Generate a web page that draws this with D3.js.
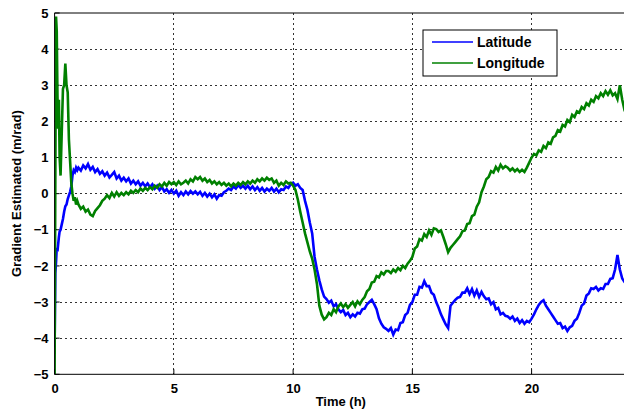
<!DOCTYPE html>
<html><head><meta charset="utf-8">
<script src="https://cdn.jsdelivr.net/npm/d3@7"></script>
<style>body{margin:0;background:#fff}svg{display:block}text{font-family:"Liberation Sans",Arial,sans-serif;font-weight:bold}</style>
</head><body><svg id="c" width="624" height="412"></svg>
<script>
// ---- data ----
const xTicks = [0, 5, 10, 15, 20];
const yTicks = [-5, -4, -3, -2, -1, 0, 1, 2, 3, 4, 5];
const seriesNames = ["Latitude", "Longitude"];
// early samples (t < 1 h), finer time resolution
const earlyTime = [0, 0.03, 0.06, 0.09, 0.12, 0.15, 0.18, 0.21, 0.25, 0.3, 0.35, 0.4, 0.45, 0.5, 0.55, 0.6, 0.65, 0.7, 0.75, 0.8, 0.85, 0.9, 0.95];
const latEarly = [-4.25, -2.2, -1.9, -1.5, -1.6, -1.4, -1.2, -1.05, -1.0, -0.85, -0.7, -0.5, -0.35, -0.3, -0.15, -0.05, 0.05, 0.2, 0.5, 0.65, 0.6, 0.72, 0.65];
const lonEarly = [-5, 0.3, 4.9, 4.5, 2.7, 1.8, 2.6, 1.0, 0.5, 1.7, 2.9, 3.0, 3.6, 3.0, 2.8, 1.5, 0.9, 0.3, 0.0, -0.2, -0.1, -0.3, -0.2];
// samples every 0.1 h from 1.0 h to 24.0 h
const mainTime = d3.range(10, 241).map(i => i / 10);
const latMain = [
 0.72,0.64,0.78,0.70,0.82,0.66,0.74,0.60,0.68,0.55,
 0.62,0.50,0.58,0.45,0.52,0.60,0.42,0.50,0.36,0.44,
 0.34,0.42,0.28,0.36,0.26,0.34,0.22,0.30,0.20,0.28,
 0.18,0.26,0.14,0.22,0.10,0.18,0.06,0.12,0.02,0.10,
 0.00,0.08,-0.06,0.04,-0.04,0.06,-0.02,0.07,0.00,0.06,
 -0.02,0.05,-0.06,0.02,-0.08,0.00,-0.10,-0.02,-0.14,-0.04,
 -0.06,0.04,0.08,0.14,0.10,0.20,0.14,0.24,0.16,0.22,
 0.14,0.22,0.12,0.20,0.10,0.18,0.08,0.16,0.06,0.14,
 0.08,0.16,0.06,0.14,0.04,0.12,0.10,0.20,0.16,0.26,
 0.30,0.22,0.26,0.16,0.10,-0.20,-0.45,-0.80,-1.10,-1.75,
 -2.10,-2.40,-2.65,-2.85,-2.92,-3.02,-2.96,-3.12,-3.06,-3.20,
 -3.28,-3.22,-3.36,-3.30,-3.42,-3.34,-3.40,-3.30,-3.32,-3.20,
 -3.18,-3.06,-3.00,-2.94,-3.06,-3.20,-3.45,-3.60,-3.70,-3.74,
 -3.80,-3.72,-3.90,-3.76,-3.78,-3.58,-3.56,-3.36,-3.30,-3.08,
 -3.00,-2.80,-2.80,-2.58,-2.60,-2.42,-2.56,-2.56,-2.74,-2.80,
 -3.00,-3.16,-3.34,-3.48,-3.62,-3.72,-3.10,-3.02,-2.94,-2.88,
 -2.86,-2.74,-2.74,-2.62,-2.78,-2.64,-2.82,-2.68,-2.86,-2.72,
 -2.84,-2.92,-2.90,-3.06,-3.00,-3.20,-3.16,-3.34,-3.30,-3.38,
 -3.40,-3.46,-3.40,-3.52,-3.46,-3.58,-3.50,-3.60,-3.52,-3.56,
 -3.46,-3.34,-3.20,-3.08,-3.00,-2.95,-3.10,-3.20,-3.30,-3.40,
 -3.50,-3.60,-3.58,-3.72,-3.68,-3.80,-3.70,-3.66,-3.52,-3.46,
 -3.30,-3.10,-3.04,-2.82,-2.76,-2.62,-2.64,-2.58,-2.68,-2.62,
 -2.64,-2.50,-2.50,-2.36,-2.34,-2.10,-1.70,-2.10,-2.35,-2.45,
 -2.50];
const lonMain = [
 -0.30,-0.42,-0.36,-0.50,-0.44,-0.58,-0.62,-0.48,-0.40,-0.32,
 -0.20,-0.14,-0.04,-0.12,0.02,-0.08,0.04,-0.06,0.02,-0.04,
 0.04,-0.02,0.08,0.02,0.10,0.04,0.14,0.08,0.16,0.10,
 0.18,0.12,0.22,0.16,0.26,0.20,0.30,0.22,0.32,0.26,
 0.32,0.24,0.34,0.26,0.30,0.36,0.28,0.40,0.34,0.46,
 0.40,0.46,0.36,0.42,0.32,0.38,0.28,0.34,0.26,0.32,
 0.24,0.30,0.22,0.28,0.20,0.28,0.22,0.30,0.24,0.32,
 0.26,0.34,0.28,0.36,0.30,0.40,0.34,0.42,0.36,0.44,
 0.38,0.42,0.30,0.36,0.22,0.30,0.24,0.34,0.28,0.30,
 0.22,0.10,-0.17,-0.50,-0.80,-1.10,-1.35,-1.60,-1.80,-2.10,
 -2.50,-3.10,-3.35,-3.48,-3.42,-3.30,-3.36,-3.20,-3.28,-3.12,
 -3.04,-3.14,-3.06,-3.16,-3.08,-3.00,-3.12,-2.98,-3.06,-2.94,
 -2.86,-2.70,-2.64,-2.46,-2.44,-2.28,-2.32,-2.18,-2.24,-2.14,
 -2.14,-2.20,-2.10,-2.16,-2.06,-2.12,-2.00,-2.06,-1.94,-1.86,
 -1.75,-1.52,-1.46,-1.26,-1.30,-1.12,-1.20,-1.02,-1.14,-0.96,
 -0.98,-1.06,-1.02,-1.20,-1.40,-1.62,-1.50,-1.42,-1.34,-1.26,
 -1.18,-1.04,-1.02,-0.84,-0.82,-0.62,-0.58,-0.36,-0.24,0.04,
 0.20,0.40,0.46,0.62,0.58,0.74,0.64,0.80,0.70,0.76,
 0.72,0.64,0.70,0.62,0.68,0.60,0.66,0.60,0.72,0.86,
 1.00,1.10,1.06,1.20,1.16,1.32,1.26,1.42,1.38,1.56,
 1.60,1.76,1.72,1.90,1.86,2.04,1.98,2.18,2.12,2.28,
 2.24,2.40,2.34,2.50,2.44,2.60,2.54,2.70,2.64,2.78,
 2.70,2.84,2.74,2.86,2.72,2.78,2.62,3.00,2.60,2.30,
 2.20];

// ---- chart ----
const svg = d3.select("#c");
const m = {left: 54.6, top: 13, right: 627, bottom: 374.3};
const x = d3.scaleLinear().domain([0, 24]).range([m.left, m.right]);
const y = d3.scaleLinear().domain([-5, 5]).range([m.bottom, m.top]);

// grid
const g = svg.append("g");
g.selectAll(".gy").data(yTicks.filter(v => v > -5 && v < 5)).enter().append("line")
  .attr("x1", m.left).attr("x2", 624).attr("y1", d => y(d)).attr("y2", d => y(d))
  .attr("stroke", "#333").attr("stroke-width", 1).attr("stroke-dasharray", "2,3").attr("shape-rendering","crispEdges");
g.selectAll(".gx").data(xTicks.filter(v => v > 0)).enter().append("line")
  .attr("x1", d => x(d)).attr("x2", d => x(d)).attr("y1", m.top).attr("y2", m.bottom)
  .attr("stroke", "#333").attr("stroke-width", 1).attr("stroke-dasharray", "2,3").attr("shape-rendering","crispEdges");

// axes
const xAxis = d3.axisBottom(x).tickValues(xTicks).tickSize(0).tickPadding(6);
const yAxis = d3.axisLeft(y).tickValues(yTicks).tickSize(0).tickPadding(6);
const gx = svg.append("g").attr("transform", `translate(0,${m.bottom})`).call(xAxis);
const gy = svg.append("g").attr("transform", `translate(${m.left},0)`).call(yAxis);
[gx, gy].forEach(a => {
  a.select(".domain").remove();
  a.selectAll("text").attr("font-size", 13).attr("font-weight", "bold").attr("fill", "#000")
   .attr("font-family", '"Liberation Sans",Arial,sans-serif');
});
gx.selectAll("text").attr("dy", "0.95em");
// inward tick marks
svg.append("g").selectAll("line").data(xTicks).enter().append("line")
  .attr("x1", d => x(d)).attr("x2", d => x(d)).attr("y1", m.bottom).attr("y2", m.bottom - 5)
  .attr("stroke", "#000");
svg.append("g").selectAll("line").data(yTicks).enter().append("line")
  .attr("x1", m.left).attr("x2", m.left + 5).attr("y1", d => y(d)).attr("y2", d => y(d))
  .attr("stroke", "#000");

// lines
svg.append("clipPath").attr("id", "clip").append("rect")
  .attr("x", m.left).attr("y", m.top).attr("width", m.right - m.left).attr("height", m.bottom - m.top);
const line = d3.line().x(d => x(d[0])).y(d => y(d[1]));
const latData = earlyTime.map((t, i) => [t, latEarly[i]]).concat(mainTime.map((t, i) => [t, latMain[i]]));
const lonData = earlyTime.map((t, i) => [t, lonEarly[i]]).concat(mainTime.map((t, i) => [t, lonMain[i]]));
const colors = ["#0000ff", "#008000"];
const lg = svg.append("g").attr("clip-path", "url(#clip)");
[latData, lonData].forEach((d, i) => {
  lg.append("path").datum(d).attr("d", line).attr("fill", "none")
    .attr("stroke", colors[i]).attr("stroke-width", 2.6).attr("stroke-linejoin", "miter");
});

// box
svg.append("line").attr("x1", m.left).attr("x2", 624).attr("y1", m.top).attr("y2", m.top).attr("stroke", "#000").attr("stroke-width", 1);
svg.append("line").attr("x1", m.left).attr("x2", 624).attr("y1", m.bottom).attr("y2", m.bottom).attr("stroke", "#000").attr("stroke-width", 1);
svg.append("line").attr("x1", m.left).attr("x2", m.left).attr("y1", m.top).attr("y2", m.bottom).attr("stroke", "#000").attr("stroke-width", 1);

// labels
svg.append("text").attr("x", x(12)).attr("y", 406).attr("text-anchor", "middle")
  .attr("font-size", 13).text("Time (h)");
svg.append("text").attr("transform", `translate(21,${y(0)}) rotate(-90)`).attr("text-anchor", "middle")
  .attr("font-size", 13).text("Gradient Estimated (m/rad)");

// legend
const leg = svg.append("g").attr("transform", "translate(423,30)");
leg.append("rect").attr("width", 134).attr("height", 46).attr("fill", "#fff").attr("stroke", "#000").attr("stroke-width", 1);
seriesNames.forEach((n, i) => {
  leg.append("line").attr("x1", 9).attr("x2", 50).attr("y1", 12 + i * 21).attr("y2", 12 + i * 21)
    .attr("stroke", colors[i]).attr("stroke-width", 1.5);
  leg.append("text").attr("x", 54).attr("y", 17 + i * 21).attr("font-size", 14).text(n);
});
</script></body></html>
